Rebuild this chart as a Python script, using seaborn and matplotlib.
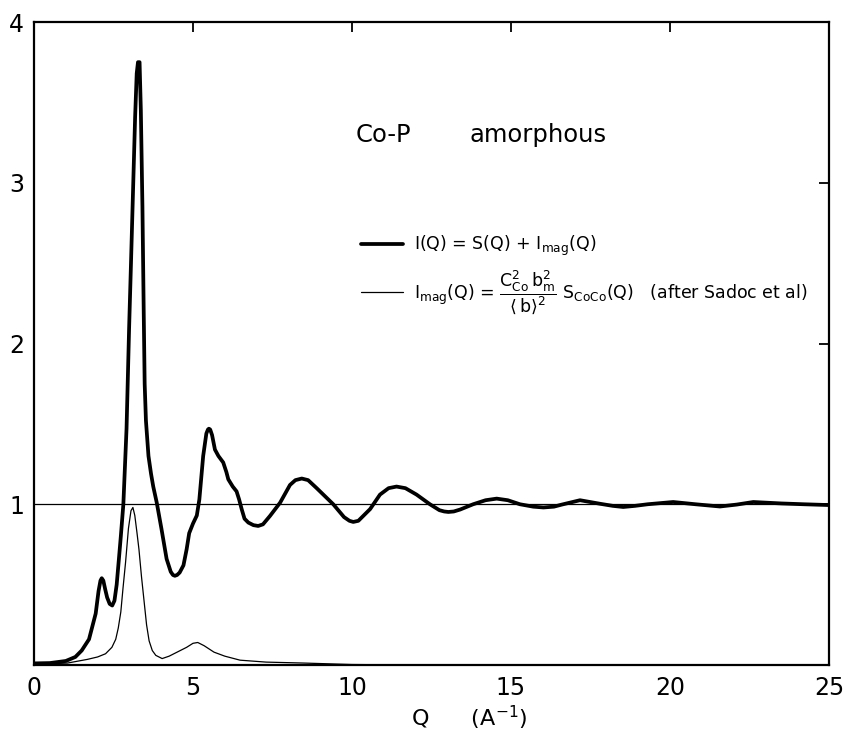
import numpy as np
import pandas as pd
import seaborn as sns
import matplotlib
matplotlib.use("Agg")
import matplotlib.pyplot as plt
from matplotlib.lines import Line2D

# ---- data ----
q_total = [0.0, 0.5, 1.0, 1.3, 1.5, 1.73, 1.94, 2.03, 2.09, 2.13, 2.18, 2.24, 2.3, 2.38, 2.46,
           2.53, 2.6, 2.67, 2.73, 2.81, 2.91, 2.99, 3.05, 3.1, 3.18, 3.23, 3.27, 3.32, 3.36,
           3.41, 3.45, 3.48, 3.52, 3.6, 3.68, 3.75, 3.86, 4.01, 4.17, 4.3, 4.37, 4.43, 4.5,
           4.58, 4.7, 4.8, 4.88, 5.0, 5.12, 5.2, 5.32, 5.42, 5.47, 5.5, 5.54, 5.6, 5.69, 5.8,
           5.95, 6.05, 6.11, 6.25, 6.37, 6.45, 6.53, 6.62, 6.74, 6.9, 7.05, 7.2, 7.42, 7.74,
           8.05, 8.22, 8.42, 8.62, 8.89, 9.41, 9.75, 9.92, 10.04, 10.2, 10.57, 10.88, 11.15,
           11.4, 11.68, 12.03, 12.45, 12.75, 12.9, 13.03, 13.2, 13.4, 13.81, 14.2, 14.55,
           14.9, 15.28, 15.7, 16.02, 16.35, 16.6, 17.17, 17.8, 18.2, 18.53, 18.9, 19.3, 20.1,
           20.8, 21.57, 22.1, 22.62, 23.5, 24.2, 25.0]
i_total = [0.01, 0.012, 0.025, 0.05, 0.09, 0.16, 0.32, 0.46, 0.525, 0.54, 0.525, 0.47, 0.42,
           0.38, 0.37, 0.40, 0.50, 0.66, 0.80, 1.0, 1.47, 2.09, 2.5, 2.85, 3.41, 3.68, 3.75,
           3.75, 3.45, 2.85, 2.2, 1.75, 1.52, 1.30, 1.19, 1.11, 1.01, 0.845, 0.66, 0.58, 0.56,
           0.555, 0.56, 0.575, 0.62, 0.72, 0.82, 0.88, 0.93, 1.03, 1.30, 1.44, 1.465, 1.47,
           1.465, 1.43, 1.34, 1.30, 1.26, 1.20, 1.155, 1.11, 1.08, 1.03, 0.97, 0.91, 0.886,
           0.87, 0.865, 0.875, 0.927, 1.01, 1.12, 1.15, 1.16, 1.15, 1.10, 1.0, 0.92, 0.897,
           0.89, 0.897, 0.97, 1.06, 1.10, 1.11, 1.10, 1.06, 1.0, 0.963, 0.955, 0.952, 0.955,
           0.967, 1.0, 1.025, 1.035, 1.025, 1.0, 0.985, 0.98, 0.985, 0.998, 1.025, 1.003,
           0.99, 0.983, 0.99, 1.0, 1.014, 1.0, 0.986, 0.998, 1.014, 1.005, 1.0, 0.995]

q_mag = [0.0, 0.5, 1.05, 1.68, 2.0, 2.25, 2.45, 2.57, 2.65, 2.73, 2.8, 2.88, 2.97, 3.05,
         3.11, 3.17, 3.24, 3.3, 3.38, 3.46, 3.54, 3.62, 3.72, 3.83, 4.03, 4.25, 4.5, 4.8,
         5.0, 5.15, 5.35, 5.66, 6.0, 6.48, 7.3, 8.5, 10.0, 12.0, 25.0]
i_mag = [0.005, 0.008, 0.012, 0.035, 0.05, 0.07, 0.11, 0.16, 0.23, 0.33, 0.48, 0.64, 0.85, 0.96,
         0.98, 0.93, 0.82, 0.72, 0.55, 0.40, 0.25, 0.15, 0.09, 0.06, 0.04, 0.055, 0.08, 0.11,
         0.135, 0.14, 0.12, 0.08, 0.055, 0.03, 0.018, 0.012, 0.003, 0.0, 0.0]

x_ticks = [0, 5, 10, 15, 20, 25]
y_ticks = [0, 1, 2, 3, 4]
y_ticklabels = ["", "1", "2", "3", "4"]

label_total = r"I(Q) = S(Q) + I$_{mag}$(Q)"
label_mag = (r"I$_{mag}$(Q) = $\dfrac{C_{Co}^{2}\,b_{m}^{2}}{\langle\, b\rangle^{2}}$"
             r" S$_{CoCo}$(Q)   (after Sadoc et al)")

# ---- style ----
sns.set_theme(style="white")
plt.rcParams["font.family"] = ["DejaVu Sans"]
plt.rcParams["mathtext.fontset"] = "dejavusans"
plt.rcParams["mathtext.default"] = "regular"
plt.rcParams["text.color"] = "black"
plt.rcParams["axes.labelcolor"] = "black"

fig = plt.figure(figsize=(8.45, 7.32), dpi=100)
ax = fig.add_axes([34 / 845, 1 - 665 / 732, 795 / 845, 643 / 732])

df_t = pd.DataFrame({"Q": q_total, "I": i_total})
df_m = pd.DataFrame({"Q": q_mag, "I": i_mag})
sns.lineplot(data=df_t, x="Q", y="I", ax=ax, color="black", lw=2.7, sort=False)
sns.lineplot(data=df_m, x="Q", y="I", ax=ax, color="black", lw=0.9, sort=False)
ax.axhline(1.0, color="black", lw=0.9)

ax.set_xlim(0, 25)
ax.set_ylim(0, 4)
ax.set_xticks(x_ticks)
ax.set_xticklabels([str(t) for t in x_ticks])
ax.set_yticks(y_ticks)
ax.set_yticklabels(y_ticklabels)
ax.tick_params(axis="both", direction="in", length=7, width=1.3, labelsize=17,
               top=True, right=True, colors="black", labelcolor="black")
ax.tick_params(axis="x", pad=8)
ax.tick_params(axis="y", pad=7)
for s in ax.spines.values():
    s.set_color("black")
    s.set_linewidth(1.6)
ax.set_xlabel("")
ax.set_ylabel("")

ax.text(10.1, 3.3, "Co-P", fontsize=17.5, va="center", ha="left", color="black")
ax.text(13.7, 3.3, "amorphous", fontsize=17.5, va="center", ha="left", color="black")

handles = [Line2D([], [], color="black", lw=2.7), Line2D([], [], color="black", lw=0.9)]
leg = ax.legend(handles, [label_total, label_mag], loc="upper left",
                bbox_to_anchor=(0.401, 0.684), frameon=False, fontsize=12.5,
                handlelength=2.4, handletextpad=0.6, borderpad=0, labelspacing=0.6)
for t in leg.get_texts():
    t.set_color("black")

fig.text(411 / 845, 1 - 726 / 732, r"Q      (A$^{-1}$)", fontsize=16,
         ha="left", va="baseline", color="black")

fig.savefig("out.png", dpi=100, facecolor="white")
